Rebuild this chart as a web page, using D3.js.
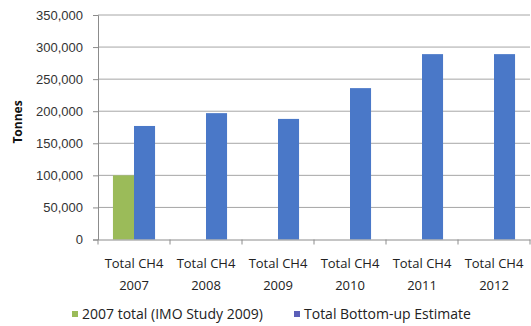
<!DOCTYPE html>
<html><head><meta charset="utf-8">
<script src="https://cdn.jsdelivr.net/npm/d3@7"></script>
<style>
html,body{margin:0;padding:0;background:#fff;}
svg{display:block;font-family:"Open Sans","Liberation Sans",sans-serif;}
</style></head>
<body>
<svg id="chart" width="531" height="326"></svg>
<script>
const categories = ["Total CH4 2007","Total CH4 2008","Total CH4 2009","Total CH4 2010","Total CH4 2011","Total CH4 2012"];
const imoValues = [100000, null, null, null, null, null];
const bottomUpValues = [177000, 197000, 188000, 236000, 289000, 289000];
const seriesNames = ["2007 total (IMO Study 2009)", "Total Bottom-up Estimate"];
const yTicks = [0,50000,100000,150000,200000,250000,300000,350000];

const svg = d3.select("#chart");
const m = {left:98, right:530, top:15, bottom:239.5};
const x = d3.scaleBand().domain(categories).range([m.left, m.right]);
const y = d3.scaleLinear().domain([0,350000]).range([m.bottom, m.top]);
const sub = d3.scaleBand().domain([0,1]).range([0, x.bandwidth()]).paddingOuter(0.71).paddingInner(0);

const fmt = d3.format(",");
// gridlines
svg.append("g").selectAll("line").data(yTicks.filter(d=>d>0)).join("line")
  .attr("x1", m.left).attr("x2", m.right)
  .attr("y1", d=>y(d)).attr("y2", d=>y(d))
  .attr("stroke","#a6a6a6").attr("stroke-width",1);

// y axis
const yAxis = svg.append("g").attr("transform",`translate(${m.left},0)`)
  .call(d3.axisLeft(y).tickValues(yTicks).tickFormat(fmt).tickSize(5).tickPadding(10));
yAxis.select(".domain").attr("stroke","#8c8c8c");
yAxis.selectAll(".tick line").attr("stroke","#8c8c8c");
yAxis.selectAll("text").attr("font-size","13px").attr("fill","#333");

// bars
const colors = ["#9bbb59","#4a78c8"];
const series = [imoValues, bottomUpValues];
series.forEach((vals, si) => {
  svg.append("g").selectAll("rect")
    .data(categories.map((c,i)=>({c, v: vals[i]})).filter(d=>d.v!=null))
    .join("rect")
    .attr("x", d=>x(d.c)+sub(si))
    .attr("width", sub.bandwidth())
    .attr("y", d=>y(d.v))
    .attr("height", d=>y(0)-y(d.v))
    .attr("fill", colors[si]);
});

// x axis
const xAxis = svg.append("g").attr("transform",`translate(0,${m.bottom})`)
  .call(d3.axisBottom(x).tickSize(0).tickFormat(""));
xAxis.select(".domain").attr("stroke","#8c8c8c");
// category separators
svg.append("g").selectAll("line").data(d3.range(categories.length+1)).join("line")
  .attr("x1", i=>m.left + i*x.step()).attr("x2", i=>m.left + i*x.step())
  .attr("y1", m.bottom).attr("y2", m.bottom+5)
  .attr("stroke","#8c8c8c");
// labels
const lab = svg.append("g").selectAll("text").data(categories).join("text")
  .attr("x", d=>x(d)+x.bandwidth()/2)
  .attr("text-anchor","middle").attr("font-size","13px").attr("fill","#222");
lab.append("tspan").attr("x", d=>x(d)+x.bandwidth()/2).attr("y", 268).text(d=>d.split(" ").slice(0,2).join(" "));
lab.append("tspan").attr("x", d=>x(d)+x.bandwidth()/2).attr("y", 290).text(d=>d.split(" ")[2]);

// y title
svg.append("text").attr("transform","translate(22,122) rotate(-90)")
  .attr("text-anchor","middle").attr("font-size","12px").attr("font-weight","bold")
  .attr("fill","#111").text("Tonnes");

// legend
const legendX = [72, 294];
const legendColors = ["#9bbb59","#5b5fb8"];
seriesNames.forEach((n,i)=>{
  svg.append("rect").attr("x", legendX[i]).attr("y", 311).attr("width",6).attr("height",6).attr("fill",legendColors[i]);
  svg.append("text").attr("x", legendX[i]+10).attr("y", 319).attr("font-size","14px").attr("fill","#222").text(n);
});
</script>
</body></html>
